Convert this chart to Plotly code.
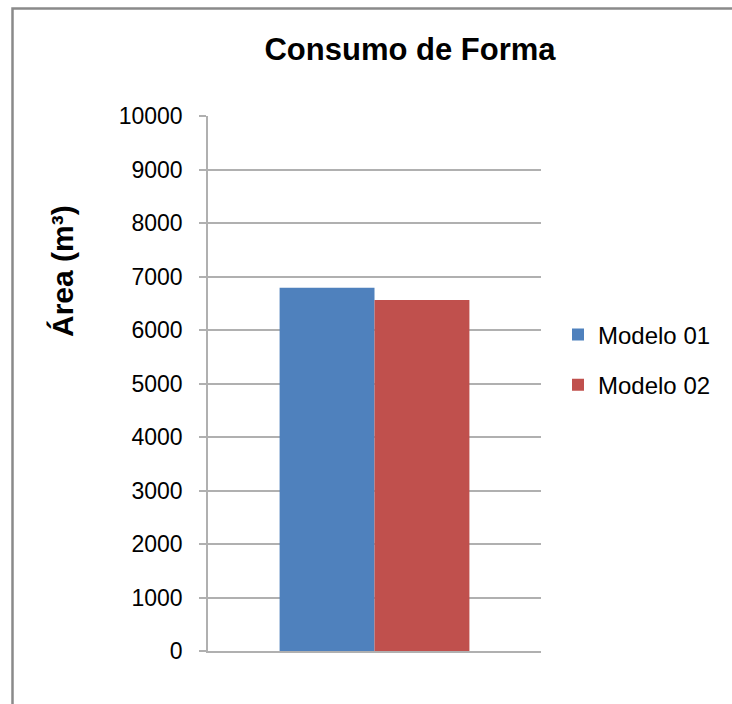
import plotly.graph_objects as go

# Chart data
categories = [""]
series_names = ["Modelo 01", "Modelo 02"]
series_values = [[6790], [6560]]
series_colors = ["#4F81BD", "#C0504D"]
y_ticks = [0, 1000, 2000, 3000, 4000, 5000, 6000, 7000, 8000, 9000, 10000]
y_tick_labels = [str(v) for v in y_ticks]

W, H = 732, 704
L, R, T, B = 208, 191, 116, 53
plot_w = W - L - R
plot_h = H - T - B


def px_x(x):
    return (x - L) / plot_w


def px_y(y):
    return (H - B - y) / plot_h


fig = go.Figure()
for name, vals, col in zip(series_names, series_values, series_colors):
    fig.add_trace(go.Bar(
        x=categories, y=vals, name=name, legendgroup=name,
        marker=dict(color=col, line=dict(width=0)),
    ))

grid_col = "#b0b0b0"
font_family = "Liberation Sans, Arial, sans-serif"

fig.update_layout(
    width=W, height=H,
    margin=dict(l=L, r=R, t=T, b=B),
    paper_bgcolor="white", plot_bgcolor="white",
    barmode="group", bargap=0.43, bargroupgap=0,
    font=dict(family=font_family, color="#000000"),
    title=dict(
        text="<b>Consumo de Forma</b>",
        x=410 / W, xanchor="center",
        y=1 - 49 / H, yanchor="middle",
        font=dict(size=31, family=font_family, color="#000000"),
    ),
    xaxis=dict(
        showticklabels=False, ticks="", showgrid=False,
        showline=True, linecolor=grid_col, linewidth=1.5,
        zeroline=False,
    ),
    yaxis=dict(
        range=[0, 10000], tickvals=y_ticks, ticktext=y_tick_labels,
        ticks="outside", ticklen=7, tickcolor=grid_col, tickwidth=1.5,
        ticklabelstandoff=12,
        showgrid=True, gridcolor=grid_col, gridwidth=1.5,
        showline=True, linecolor=grid_col, linewidth=1.5,
        zeroline=False,
        tickfont=dict(size=23, family=font_family, color="#000000"),
    ),
    legend=dict(
        x=px_x(558), xanchor="left",
        y=px_y(360), yanchor="middle",
        traceorder="grouped", tracegroupgap=16,
        font=dict(size=24, family=font_family, color="#000000"),
        bgcolor="rgba(0,0,0,0)",
    ),
    showlegend=True,
)

# Y-axis title placed as a rotated annotation
fig.add_annotation(
    text="<b>Área (m³)</b>", textangle=-90,
    xref="paper", yref="paper",
    x=px_x(62), y=px_y(271), xanchor="center", yanchor="middle",
    showarrow=False,
    font=dict(size=30, family=font_family, color="#000000"),
)

# Outer chart frame
fig.add_shape(
    type="rect", xref="paper", yref="paper",
    x0=px_x(12.5), x1=px_x(W + 20),
    y0=px_y(H + 20), y1=px_y(8.5),
    line=dict(color="#8a8a8a", width=2.5),
    fillcolor="rgba(0,0,0,0)", layer="below",
)

fig.write_html("out.html")
